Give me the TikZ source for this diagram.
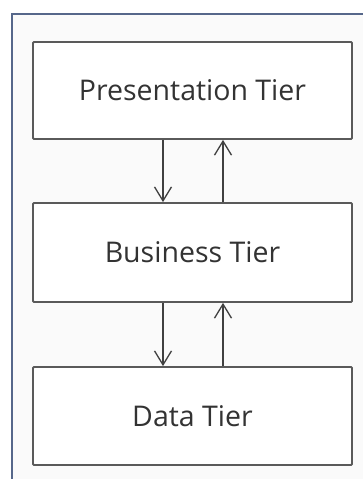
\documentclass[tikz,border=0pt]{standalone}
\usepackage{fontspec}
\setmainfont{Open Sans}
\usetikzlibrary{arrows.meta}

\definecolor{framecol}{HTML}{56678A}
\definecolor{boxcol}{HTML}{5A5A5A}
\definecolor{textcol}{HTML}{333333}
\definecolor{bgcol}{HTML}{FAFAFA}

\tikzset{
    tier/.style={draw=boxcol, line width=1.8pt, rounded corners=1pt, fill=white,
        minimum width=319pt, text=textcol, font=\fontsize{28.5}{34}\selectfont},
    flow/.style={draw=black!75, line width=1.3pt, -{Straight Barb[length=14pt,width=17pt,line width=1.3pt]}}
}

\begin{document}
\begin{tikzpicture}[x=1pt,y=-1pt]
    %% page and frame
    \useasboundingbox (0,0) rectangle (363,479);
    \fill[white] (0,0) rectangle (363,479);
    \fill[bgcol] (12,14) rectangle (363,479);
    \draw[framecol, line width=1.8pt] (12,479) -- (12,14) -- (363,14);

    %% tiers
    \node[tier, minimum height=97pt] (pres) at (192.5,90.5) {Presentation Tier};
    \node[tier, minimum height=99pt] (bus) at (192.5,252.5) {Business Tier};
    \node[tier, minimum height=98pt] (data) at (192.5,416) {Data Tier};

    %% requests down, replies up
    \draw[flow] ([xshift=-29.5pt]pres.south) -- ([xshift=-29.5pt]bus.north);
    \draw[flow] ([xshift=30.5pt]bus.north) -- ([xshift=30.5pt]pres.south);
    \draw[flow] ([xshift=-29.5pt]bus.south) -- ([xshift=-29.5pt]data.north);
    \draw[flow] ([xshift=30.5pt]data.north) -- ([xshift=30.5pt]bus.south);
\end{tikzpicture}
\end{document}
